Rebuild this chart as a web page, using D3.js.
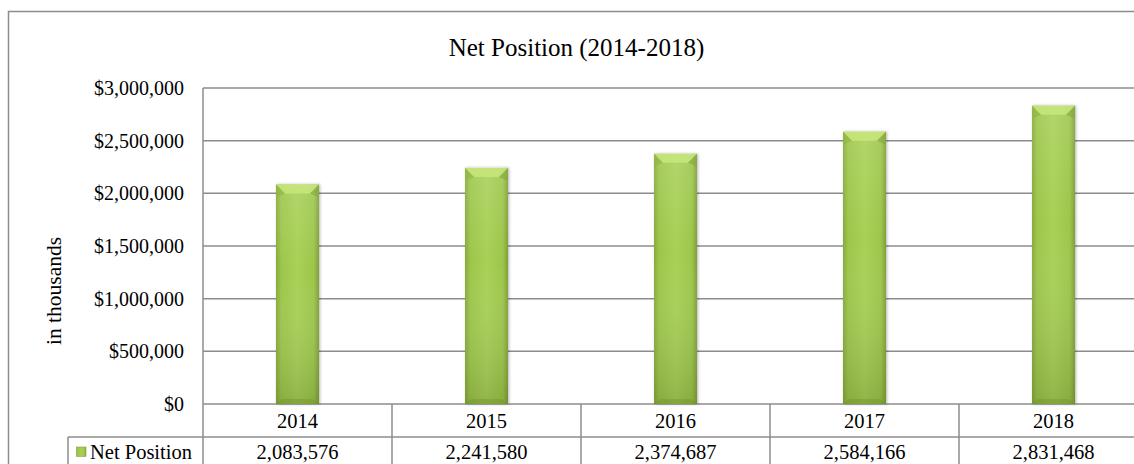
<!DOCTYPE html>
<html><head><meta charset="utf-8">
<script src="https://cdn.jsdelivr.net/npm/d3@7"></script>
<style>body{margin:0;background:#fff}svg{display:block}text{font-family:"Liberation Serif","Times New Roman",serif;fill:#000}</style>
</head><body>
<svg id="c" width="1134" height="464"></svg>
<script>
const years = ["2014","2015","2016","2017","2018"];
const netPosition = [2083576,2241580,2374687,2584166,2831468];
const yTicks = [0,500000,1000000,1500000,2000000,2500000,3000000];
const seriesName = "Net Position";
const title = "Net Position (2014-2018)";
const yLabel = "in thousands";

const svg = d3.select("#c");
const L = 203, R = 1148, T = 88, B = 404, row1 = 437, row2 = 470, legLeft = 68;
const x = d3.scaleBand().domain(years).range([L, R]);
const y = d3.scaleLinear().domain([0, 3000000]).range([B, T]);
const grid = "#8c8c8c";

const defs = svg.append("defs");
const gH = defs.append("linearGradient").attr("id","gh").attr("x1",0).attr("x2",1).attr("y1",0).attr("y2",0);
[[0,"#86a93a"],[0.12,"#9cc64a"],[0.5,"#a8d056"],[0.88,"#9cc64a"],[1,"#7e9f35"]].forEach(s=>gH.append("stop").attr("offset",s[0]).attr("stop-color",s[1]));
const gV = defs.append("linearGradient").attr("id","gv").attr("x1",0).attr("x2",0).attr("y1",0).attr("y2",1);
[[0,"#ffffff",0.12],[0.4,"#ffffff",0.0],[1,"#3d5210",0.22]].forEach(s=>gV.append("stop").attr("offset",s[0]).attr("stop-color",s[1]).attr("stop-opacity",s[2]));
const sh = defs.append("filter").attr("id","sh").attr("x","-20%").attr("y","-5%").attr("width","140%").attr("height","110%");
sh.append("feDropShadow").attr("dx",1).attr("dy",0).attr("stdDeviation",1.5).attr("flood-color","#000").attr("flood-opacity",0.3);

// outer border
svg.append("rect").attr("x",8.5).attr("y",11.5).attr("width",1140).attr("height",470).attr("fill","none").attr("stroke","#8c8c8c").attr("stroke-width",1.5);

// title
svg.append("text").attr("x",576.5).attr("y",56).attr("text-anchor","middle").attr("font-size",25).text(title);

// gridlines
svg.append("g").selectAll("line").data(yTicks).join("line")
  .attr("x1",L).attr("x2",R).attr("y1",d=>y(d)).attr("y2",d=>y(d))
  .attr("stroke",grid).attr("stroke-width",1.5);
svg.append("line").attr("x1",L).attr("x2",L).attr("y1",T).attr("y2",row2).attr("stroke",grid).attr("stroke-width",1.5);

// y tick labels
const fmt = d3.format(",");
svg.append("g").selectAll("text").data(yTicks).join("text")
  .attr("x",L-19).attr("y",d=>y(d)+7).attr("text-anchor","end").attr("font-size",20)
  .text(d=>"$"+fmt(d));
svg.append("text").attr("transform",`translate(61,291) rotate(-90)`).attr("text-anchor","middle").attr("font-size",21.5).text(yLabel);

// bars
const bw = 43;
const bars = svg.append("g").selectAll("g").data(years).join("g")
  .attr("transform",d=>`translate(${x(d)+x.bandwidth()/2-bw/2},0)`);
bars.append("rect").attr("filter","url(#sh)").attr("x",0).attr("width",bw)
  .attr("y",(d,i)=>y(netPosition[i])).attr("height",(d,i)=>B-y(netPosition[i])).attr("fill","url(#gh)");
bars.append("rect").attr("x",0).attr("width",bw)
  .attr("y",(d,i)=>y(netPosition[i])).attr("height",(d,i)=>B-y(netPosition[i])).attr("fill","url(#gv)");
const bev = 9;
bars.append("path").attr("d",(d,i)=>{const t=y(netPosition[i]);return `M0,${t}L${bw},${t}L${bw-bev},${t+bev}L${bev},${t+bev}Z`;}).attr("fill","#c8e67c").attr("opacity",0.85);
bars.append("path").attr("d",(d,i)=>{const t=y(netPosition[i]);return `M0,${t}L${bev},${t+bev}L0,${t+bev+4}Z`;}).attr("fill","#8fb540").attr("opacity",0.6);
bars.append("path").attr("d",(d,i)=>{const t=y(netPosition[i]);return `M${bw},${t}L${bw-bev},${t+bev}L${bw},${t+bev+4}Z`;}).attr("fill","#86a93a").attr("opacity",0.6);
bars.append("path").attr("d",()=>`M0,${B}L${bw},${B}L${bw-6},${B-5}L6,${B-5}Z`).attr("fill","#6e8c2c").attr("opacity",0.35);

// data table
svg.append("line").attr("x1",legLeft).attr("x2",R).attr("y1",row1).attr("y2",row1).attr("stroke",grid).attr("stroke-width",1.5);
svg.append("line").attr("x1",legLeft).attr("x2",legLeft).attr("y1",row1).attr("y2",row2).attr("stroke",grid).attr("stroke-width",1.5);
svg.append("g").selectAll("line").data(years).join("line")
  .attr("x1",d=>x(d)+x.bandwidth()).attr("x2",d=>x(d)+x.bandwidth()).attr("y1",B).attr("y2",row2)
  .attr("stroke",grid).attr("stroke-width",1.5);
svg.append("g").selectAll("text").data(years).join("text")
  .attr("x",d=>x(d)+x.bandwidth()/2).attr("y",428).attr("text-anchor","middle").attr("font-size",20.5).text(d=>d);
svg.append("g").selectAll("text").data(netPosition).join("text")
  .attr("x",(d,i)=>x(years[i])+x.bandwidth()/2).attr("y",459).attr("text-anchor","middle").attr("font-size",20.5).text(d=>fmt(d));
svg.append("rect").attr("x",76.5).attr("y",447).attr("width",9.5).attr("height",9.5).attr("fill","url(#gh)").attr("stroke","#7a9a35").attr("stroke-width",0.5);
svg.append("text").attr("x",90).attr("y",459).attr("font-size",20.5).text(seriesName);
</script>
</body></html>
